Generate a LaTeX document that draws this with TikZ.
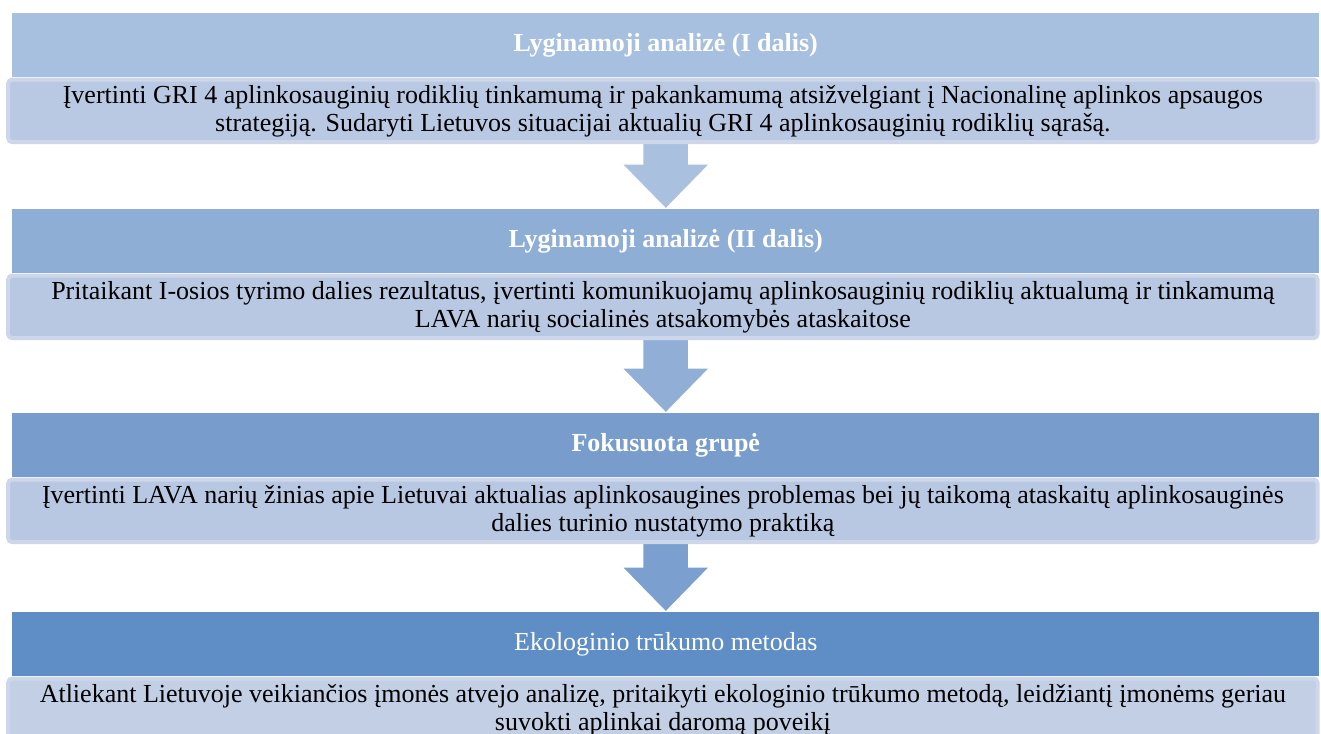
\documentclass[tikz,border=0pt]{standalone}
\usepackage{fontspec}
\setmainfont{Liberation Serif}
\usetikzlibrary{positioning,calc,backgrounds}

\definecolor{headA}{HTML}{A8C0DF}
\definecolor{headB}{HTML}{8FAED6}
\definecolor{headC}{HTML}{789DCD}
\definecolor{headD}{HTML}{5F8DC5}
\definecolor{arrA}{HTML}{A9C0DF}
\definecolor{arrB}{HTML}{91AFD6}
\definecolor{arrC}{HTML}{7BA0CF}
\definecolor{descA}{HTML}{BAC9E3}
\definecolor{descB}{HTML}{B8C8E2}
\definecolor{descC}{HTML}{B9C8E2}
\definecolor{descD}{HTML}{C2CFE5}
\definecolor{descLine}{HTML}{CED7EA}

\begin{document}
\begin{tikzpicture}[
    font=\fontsize{19.5}{21}\selectfont,
    head/.style={fill=#1, minimum width=980.25pt, minimum height=48pt, inner sep=0pt,
      text=white, anchor=north west},
    desc/.style={fill=#1, draw=descLine, line width=3pt, rounded corners=3pt,
      minimum width=982pt, minimum height=47pt, inner sep=0pt, align=center,
      anchor=north east},
    flow/.style={fill=#1, draw=white, line width=1pt}
  ]
    \useasboundingbox (0,0) rectangle (990.75pt,-550.5pt);

    % Step headers
    \node[head=headA, font=\fontsize{19.5}{21}\selectfont\bfseries] (Head1) at (9pt,-9.75pt) {Lyginamoji analizė (I dalis)};
    \node[head=headB, font=\fontsize{19.5}{21}\selectfont\bfseries] (Head2) at (9pt,-156.75pt) {Lyginamoji analizė (II dalis)};
    \node[head=headC, font=\fontsize{19.5}{21}\selectfont\bfseries] (Head3) at (9pt,-309.75pt) {Fokusuota grupė};
    \node[head=headD] (Head4) at (9pt,-459pt) {Ekologinio trūkumo metodas};

    % Step descriptions under the headers
    \node[desc=descA] (Desc1) at (Head1.south east) {Įvertinti GRI 4 aplinkosauginių rodiklių tinkamumą ir pakankamumą atsižvelgiant į Nacionalinę aplinkos apsaugos\\strategiją. Sudaryti Lietuvos situacijai aktualių GRI 4 aplinkosauginių rodiklių sąrašą.};
    \node[desc=descB] (Desc2) at (Head2.south east) {Pritaikant I-osios tyrimo dalies rezultatus, įvertinti komunikuojamų aplinkosauginių rodiklių aktualumą ir tinkamumą\\LAVA narių socialinės atsakomybės ataskaitose};
    \node[desc=descC] (Desc3) at (Head3.south east) {Įvertinti LAVA narių žinias apie Lietuvai aktualias aplinkosaugines problemas bei jų taikomą ataskaitų aplinkosauginės\\dalies turinio nustatymo praktiką};
    \node[desc=descD] (Desc4) at (Head4.south east) {Atliekant Lietuvoje veikiančios įmonės atvejo analizę, pritaikyti ekologinio trūkumo metodą, leidžiantį įmonėms geriau\\suvokti aplinkai daromą poveikį};

    % Block arrows between the steps
    \begin{scope}[on background layer]
    \foreach \i/\j/\c in {1/2/arrA, 2/3/arrB, 3/4/arrC} {
      \coordinate (tip\j) at (Head\j.north);
      \coordinate (base\i) at ($(Desc\i.south -| tip\j)+(0,3pt)$);
      \filldraw[flow=\c] ($(base\i)+(-17.25pt,0)$) -- ($(base\i)+(17.25pt,0)$)
        -- ($(tip\j)+(17.25pt,33.75pt)$) -- ($(tip\j)+(33pt,33.75pt)$) -- (tip\j)
        -- ($(tip\j)+(-33pt,33.75pt)$) -- ($(tip\j)+(-17.25pt,33.75pt)$) -- cycle;
    }
    \end{scope}
  \end{tikzpicture}
\end{document}
